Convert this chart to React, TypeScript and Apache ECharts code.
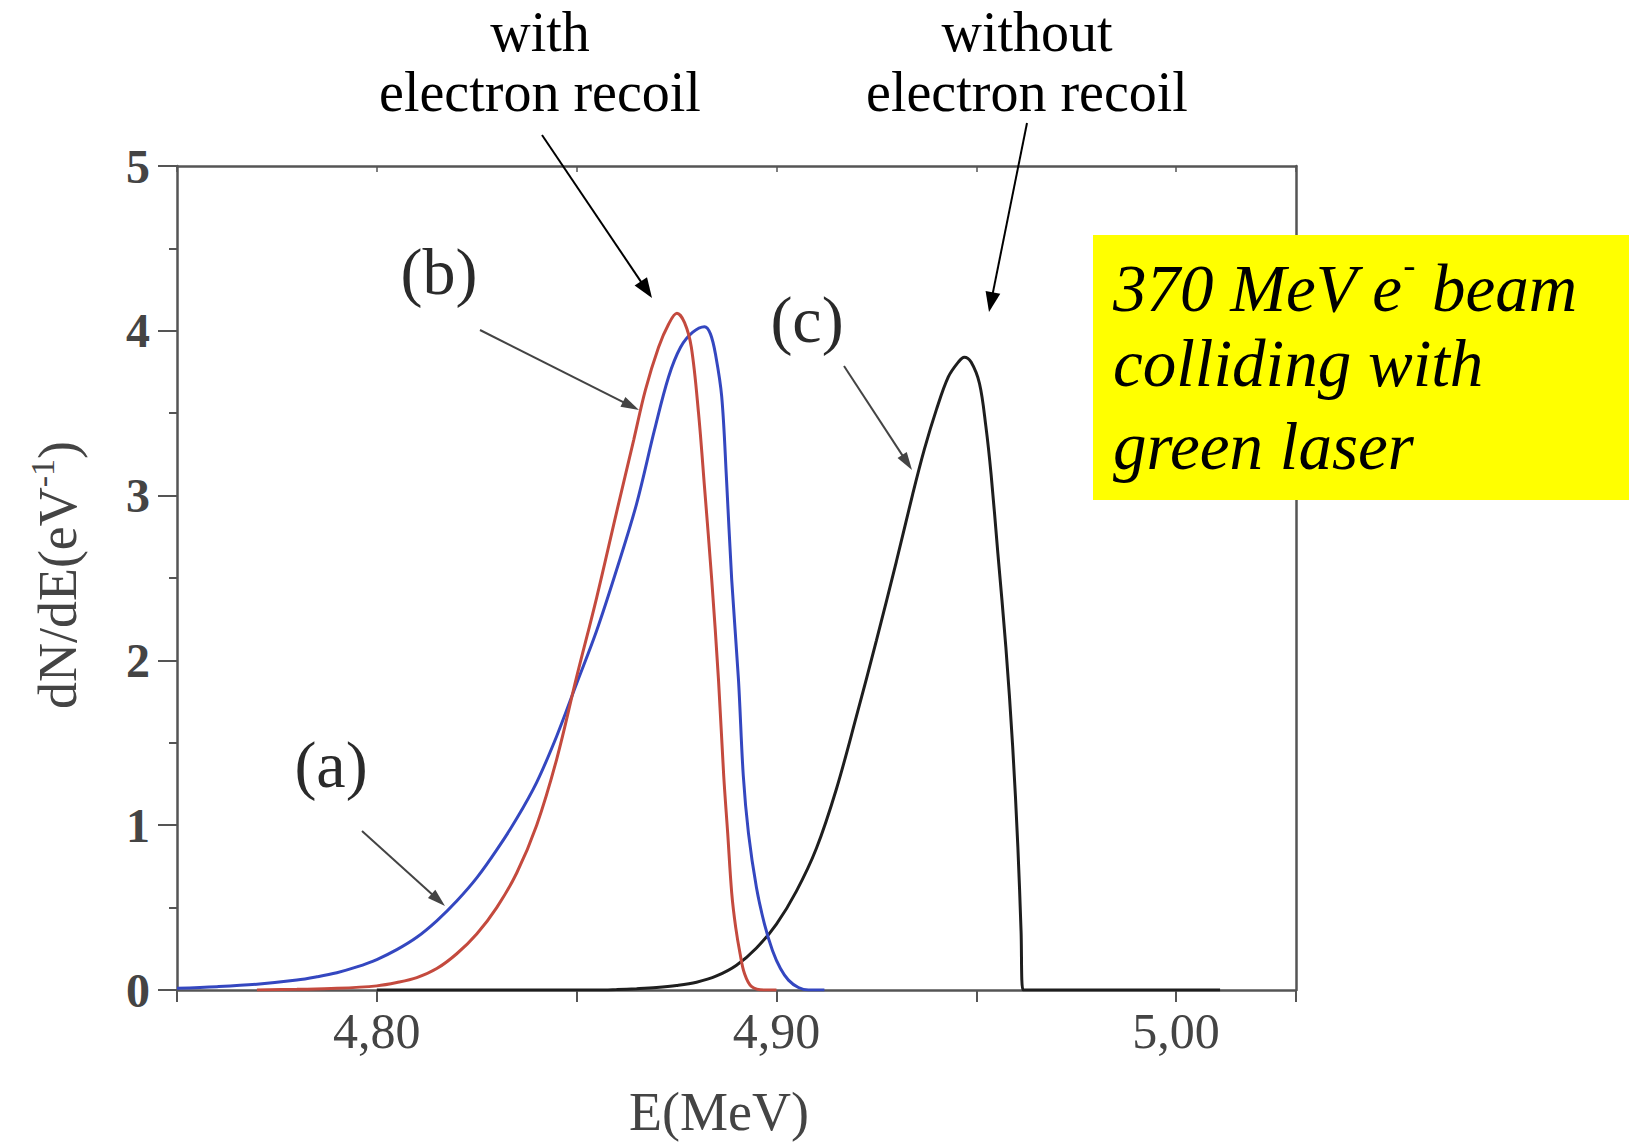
import React, { useEffect, useRef } from "react";
import * as echarts from "echarts";

// ---- data ----
const xMin = 4.75;
const xMax = 5.03;
const xLabeledTicks = [4.8, 4.9, 5.0];
const yTicks = [0, 1, 2, 3, 4, 5];

// (b) red: with electron recoil
const redE = [4.770, 4.780, 4.790, 4.800, 4.805, 4.810, 4.815, 4.820, 4.825, 4.830, 4.835, 4.840, 4.845, 4.850, 4.855, 4.860, 4.8643, 4.8672, 4.8705, 4.873, 4.8751, 4.877, 4.8787, 4.8805, 4.882, 4.8838, 4.8855, 4.8868, 4.8878, 4.8888, 4.8898, 4.8909, 4.892, 4.8938, 4.897, 4.900];
const redN = [0, 0.004, 0.01, 0.025, 0.045, 0.075, 0.13, 0.22, 0.34, 0.50, 0.71, 1.00, 1.40, 1.90, 2.38, 2.90, 3.34, 3.64, 3.90, 4.04, 4.106, 4.05, 3.90, 3.50, 3.05, 2.49, 1.88, 1.30, 0.95, 0.59, 0.38, 0.22, 0.10, 0.02, 0, 0];

// (a) blue
const blueE = [4.750, 4.760, 4.770, 4.780, 4.785, 4.790, 4.795, 4.800, 4.805, 4.810, 4.815, 4.820, 4.825, 4.830, 4.835, 4.840, 4.845, 4.850, 4.855, 4.860, 4.865, 4.8695, 4.873, 4.876, 4.879, 4.882, 4.8835, 4.8848, 4.8863, 4.8875, 4.8888, 4.8905, 4.8917, 4.893, 4.895, 4.897, 4.899, 4.901, 4.903, 4.9055, 4.908, 4.912];
const blueN = [0.01, 0.02, 0.035, 0.06, 0.08, 0.105, 0.14, 0.185, 0.245, 0.32, 0.42, 0.54, 0.68, 0.85, 1.04, 1.26, 1.54, 1.86, 2.18, 2.55, 2.95, 3.40, 3.72, 3.90, 3.99, 4.025, 3.98, 3.85, 3.60, 3.10, 2.49, 1.88, 1.30, 0.95, 0.62, 0.40, 0.24, 0.13, 0.06, 0.015, 0, 0];

// (c) black: without electron recoil
const blackE = [4.800, 4.855, 4.860, 4.865, 4.870, 4.875, 4.880, 4.885, 4.890, 4.895, 4.900, 4.905, 4.910, 4.915, 4.920, 4.925, 4.930, 4.934, 4.937, 4.940, 4.943, 4.9455, 4.947, 4.9487, 4.9508, 4.9524, 4.9537, 4.9554, 4.9574, 4.9591, 4.9604, 4.9612, 4.9617, 5.011];
const blackN = [0, 0, 0.003, 0.008, 0.015, 0.027, 0.047, 0.085, 0.15, 0.255, 0.40, 0.60, 0.86, 1.22, 1.66, 2.12, 2.60, 3.00, 3.28, 3.52, 3.72, 3.81, 3.84, 3.81, 3.68, 3.42, 3.13, 2.65, 2.08, 1.48, 0.87, 0.36, 0, 0];

const SERIF = '"Liberation Serif", "Times New Roman", serif';

function zip(xs: number[], ys: number[]) {
  return xs.map((x, i) => [x, ys[i]]);
}

function arrow(x1: number, y1: number, x2: number, y2: number, color: string, lw: number, headLen: number, headW: number) {
  const dx = x2 - x1;
  const dy = y2 - y1;
  const L = Math.sqrt(dx * dx + dy * dy);
  const ux = dx / L;
  const uy = dy / L;
  const bx = x2 - ux * headLen;
  const by = y2 - uy * headLen;
  const px = -uy * headW / 2;
  const py = ux * headW / 2;
  return [
    { type: "line", z: 50, shape: { x1, y1, x2: bx + ux * 2, y2: by + uy * 2 }, style: { stroke: color, lineWidth: lw } },
    { type: "polygon", z: 50, shape: { points: [[x2, y2], [bx + px, by + py], [bx - px, by - py]] }, style: { fill: color } },
  ];
}

function txt(text: string, x: number, y: number, size: number, extra: any = {}) {
  return {
    type: "text",
    x,
    y,
    z: 60,
    style: {
      text,
      fontSize: size,
      fontFamily: SERIF,
      fill: "#000",
      align: "center",
      verticalAlign: "middle",
      ...extra,
    },
  };
}

export default function App() {
  const ref = useRef<HTMLDivElement>(null);
  useEffect(() => {
    if (!ref.current) return;
    const chart = echarts.init(ref.current, undefined, { renderer: "svg" });
    const axisColor = "#555";
    const fmtX = (v: number) => {
      const hit = xLabeledTicks.find((t) => Math.abs(t - v) < 1e-6);
      return hit === undefined ? "" : hit.toFixed(2).replace(".", ",");
    };
    const fmtY = (v: number) => {
      const hit = yTicks.find((t) => Math.abs(t - v) < 1e-6);
      return hit === undefined ? "" : String(hit);
    };
    const lineSeries = (name: string, xs: number[], ys: number[], color: string) => ({
      name,
      type: "line",
      xAxisIndex: 0,
      yAxisIndex: 0,
      data: zip(xs, ys),
      showSymbol: false,
      smooth: 0.35,
      lineStyle: { color, width: 3 },
    });
    const option: any = {
      animation: false,
      backgroundColor: "#fff",
      grid: { left: 177, right: 333, top: 166, bottom: 153, containLabel: false },
      xAxis: [
        {
          type: "value",
          min: xMin,
          max: xMax,
          interval: 0.05,
          axisLine: { show: true, onZero: false, lineStyle: { color: axisColor, width: 2.5 } },
          axisTick: { show: true, inside: false, length: 12, lineStyle: { color: axisColor, width: 2 } },
          axisLabel: {
            formatter: fmtX,
            margin: 16,
            fontSize: 50,
            fontFamily: SERIF,
            color: "#444",
          },
          splitLine: { show: false },
        },
        {
          type: "value",
          position: "top",
          min: xMin,
          max: xMax,
          interval: 0.05,
          axisLine: { show: true, onZero: false, lineStyle: { color: axisColor, width: 2.5 } },
          axisTick: { show: true, inside: true, length: 6, lineStyle: { color: axisColor, width: 1.5 } },
          axisLabel: { show: false },
          splitLine: { show: false },
        },
      ],
      yAxis: [
        {
          type: "value",
          min: 0,
          max: 5,
          interval: 1,
          axisLine: { show: true, onZero: false, lineStyle: { color: axisColor, width: 2.5 } },
          axisTick: { show: true, inside: false, length: 19, lineStyle: { color: axisColor, width: 2 } },
          minorTick: { show: true, splitNumber: 2, length: 8, lineStyle: { color: axisColor, width: 2 } },
          axisLabel: {
            formatter: fmtY,
            margin: 27,
            fontSize: 48,
            fontWeight: "bold",
            fontFamily: SERIF,
            color: "#444",
          },
          splitLine: { show: false },
        },
        {
          type: "value",
          position: "right",
          min: 0,
          max: 5,
          interval: 1,
          axisLine: { show: true, onZero: false, lineStyle: { color: axisColor, width: 2.5 } },
          axisTick: { show: false },
          axisLabel: { show: false },
          splitLine: { show: false },
        },
      ],
      series: [
        lineSeries("(c) without electron recoil", blackE, blackN, "#1e1e1e"),
        lineSeries("(a)", blueE, blueN, "#3447c0"),
        lineSeries("(b) with electron recoil", redE, redN, "#c44a3e"),
      ],
      graphic: [
        // top annotations
        txt("with", 540, 32, 56, { lineHeight: 56 }),
        txt("electron recoil", 540, 92, 56, { lineHeight: 56 }),
        txt("without", 1027, 32, 56, { lineHeight: 56 }),
        txt("electron recoil", 1027, 92, 56, { lineHeight: 56 }),
        ...arrow(542, 135, 652, 298, "#000", 2, 20, 15),
        ...arrow(1027, 123, 989, 312, "#000", 2, 20, 15),
        // curve labels
        txt("(b)", 439, 271, 66, { fill: "#2a2a2a" }),
        txt("(a)", 331, 764, 66, { fill: "#2a2a2a" }),
        txt("(c)", 807, 319, 66, { fill: "#2a2a2a" }),
        ...arrow(480, 330, 639, 410, "#444", 2, 18, 11),
        ...arrow(362, 831, 445, 906, "#444", 2, 18, 11),
        ...arrow(844, 366, 912, 470, "#444", 2, 18, 11),
        // axis names
        {
          type: "text",
          x: 719,
          y: 1112,
          z: 60,
          style: { text: "E(MeV)", fontSize: 54, fontFamily: SERIF, fill: "#444", align: "center", verticalAlign: "middle" },
        },
        {
          type: "text",
          x: 55,
          y: 575,
          rotation: Math.PI / 2,
          z: 60,
          style: {
            text: "{m|dN/dE(eV}{s|-1}{m|)}",
            fill: "#444",
            align: "center",
            verticalAlign: "middle",
            rich: {
              m: { fontSize: 54, fontFamily: SERIF, fill: "#444", verticalAlign: "bottom", lineHeight: 60 },
              s: { fontSize: 34, fontFamily: SERIF, fill: "#444", verticalAlign: "top", lineHeight: 60 },
            },
          },
        },
        // yellow box
        {
          type: "rect",
          z: 40,
          shape: { x: 1093, y: 235, width: 536, height: 265 },
          style: { fill: "#ffff00" },
        },
        {
          type: "text",
          x: 1113,
          y: 284,
          z: 60,
          style: {
            text: "{i|370 MeV e}{s|-}{i| beam}",
            align: "left",
            verticalAlign: "middle",
            rich: {
              i: { fontSize: 67, fontStyle: "italic", fontFamily: SERIF, fill: "#000", verticalAlign: "bottom", lineHeight: 74 },
              s: { fontSize: 36, fontStyle: "italic", fontFamily: SERIF, fill: "#000", verticalAlign: "top", lineHeight: 74 },
            },
          },
        },
        txt("colliding with", 1113, 363, 67, { align: "left", fontStyle: "italic" }),
        txt("green laser", 1113, 446, 67, { align: "left", fontStyle: "italic" }),
      ],
    };
    chart.setOption(option);
    return () => chart.dispose();
  }, []);
  return (
    <div
      ref={ref}
      style={{ position: "fixed", left: 0, top: 0, width: 1629, height: 1143, background: "#fff" }}
    />
  );
}
